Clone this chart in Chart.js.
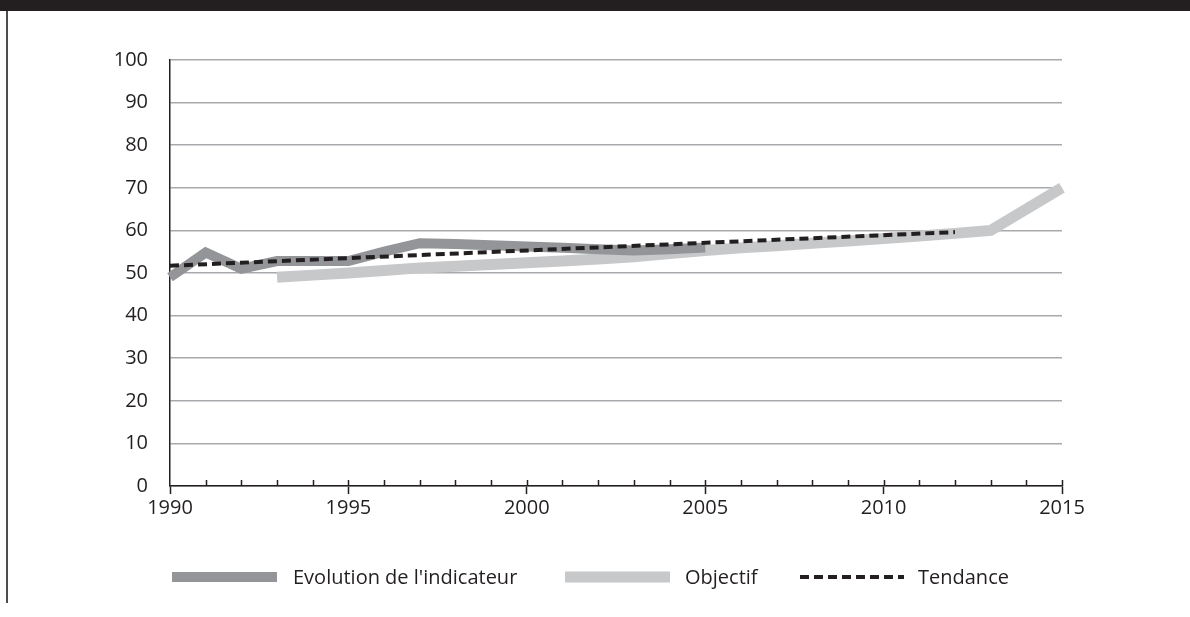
<!DOCTYPE html>
<html lang="fr">
<head>
<meta charset="utf-8">
<title>Evolution de l'indicateur</title>
<script src="https://cdn.jsdelivr.net/npm/chart.js@4.4.1/dist/chart.umd.min.js"></script>
<style>
  html, body { margin: 0; padding: 0; background: #ffffff; }
  #frame { position: relative; width: 1190px; height: 617px; overflow: hidden; }
  #topbar { position: absolute; left: 0; top: 0; width: 1190px; height: 11px; background: #231f20; }
  #leftrule { position: absolute; left: 6px; top: 11px; width: 1.5px; height: 592px; background: #4d4d4f; }
  #chart { position: absolute; left: 0; top: 0; }
</style>
</head>
<body>
<div id="frame">
  <canvas id="chart" width="1190" height="617"></canvas>
  <div id="topbar"></div>
  <div id="leftrule"></div>
</div>
<script>
// Années de l'axe horizontal
const years = [1990, 1991, 1992, 1993, 1994, 1995, 1996, 1997, 1998, 1999, 2000,
               2001, 2002, 2003, 2004, 2005, 2006, 2007, 2008, 2009, 2010,
               2011, 2012, 2013, 2014, 2015];

// Evolution de l'indicateur (1990-2005)
const evolutionYears  = [1990, 1991, 1992, 1993, 1994, 1995, 1996, 1997, 1998, 1999, 2000, 2001, 2002, 2003, 2004, 2005];
const evolutionValues = [49, 54.8, 51, 52.8, 52.8, 52.8, 55, 57, 56.8, 56.5, 56.2, 55.9, 55.6, 55.3, 55.6, 56];

// Objectif (1993-2015)
const objectifYears  = [1993, 1994, 1995, 1996, 1997, 1998, 1999, 2000, 2001, 2002, 2003,
                        2004, 2005, 2006, 2007, 2008, 2009, 2010, 2011, 2012, 2013, 2015];
const objectifValues = [49, 49.5, 50, 50.6, 51.2, 51.6, 52, 52.4, 52.8, 53.3, 53.8,
                        54.6, 55.3, 55.9, 56.4, 57, 57.5, 58.1, 58.7, 59.3, 60, 70];

// Tendance (droite de 1990 à 2012)
const tendanceYears  = [1990, 2012];
const tendanceValues = [51.7, 59.6];

// Graduations
const yTicks = [0, 10, 20, 30, 40, 50, 60, 70, 80, 90, 100];
const xLabelYears = [1990, 1995, 2000, 2005, 2010, 2015];

// Libellés de la légende
const seriesNames = ["Evolution de l'indicateur", "Objectif", "Tendance"];

const ink = '#231f20';
const toPoints = (xs, ys) => xs.map((x, i) => ({ x: x, y: ys[i] }));

Chart.defaults.font.family = "'Open Sans', 'Noto Sans', sans-serif";
Chart.defaults.font.size = 20;
Chart.defaults.color = ink;

// Petites graduations annuelles (vers l'intérieur) et légende dessinée à la main
const axisDecor = {
  id: 'axisDecor',
  afterDraw(chart) {
    const ctx = chart.ctx;
    const xs = chart.scales.x;
    const ys = chart.scales.y;
    const base = ys.getPixelForValue(0);
    ctx.save();
    ctx.strokeStyle = ink;
    ctx.lineWidth = 1.5;
    years.forEach(yr => {
      if (yr === years[0]) return;
      const px = Math.round(xs.getPixelForValue(yr)) + 0.5;
      ctx.beginPath();
      ctx.moveTo(px, base);
      ctx.lineTo(px, base - 6);
      ctx.stroke();
    });

    // Légende
    const slots = [
      { x0: 172, x1: 277, tx: 293 },
      { x0: 565, x1: 670, tx: 685 },
      { x0: 800, x1: 904, tx: 918 }
    ];
    const ly = 577;
    chart.data.datasets.forEach((ds, i) => {
      const s = slots[i];
      ctx.beginPath();
      ctx.strokeStyle = ds.borderColor;
      ctx.lineWidth = ds.borderWidth;
      ctx.lineCap = 'butt';
      ctx.setLineDash(ds.borderDash || []);
      ctx.moveTo(s.x0, ly);
      ctx.lineTo(s.x1, ly);
      ctx.stroke();
      ctx.setLineDash([]);
      ctx.fillStyle = ink;
      ctx.font = "20px 'Open Sans', 'Noto Sans', sans-serif";
      ctx.textBaseline = 'middle';
      ctx.textAlign = 'left';
      ctx.fillText(ds.label, s.tx, ly + 1);
    });
    ctx.restore();
  }
};

new Chart(document.getElementById('chart'), {
  type: 'line',
  data: {
    datasets: [
      {
        label: seriesNames[0],
        data: toPoints(evolutionYears, evolutionValues),
        borderColor: '#939598',
        borderWidth: 10,
        borderJoinStyle: 'miter',
        borderCapStyle: 'butt',
        pointRadius: 0,
        tension: 0,
        fill: false,
        clip: false,
        order: 1
      },
      {
        label: seriesNames[1],
        data: toPoints(objectifYears, objectifValues),
        borderColor: '#c7c8ca',
        borderWidth: 11,
        borderJoinStyle: 'miter',
        borderCapStyle: 'butt',
        pointRadius: 0,
        tension: 0,
        fill: false,
        clip: false,
        order: 2
      },
      {
        label: seriesNames[2],
        data: toPoints(tendanceYears, tendanceValues),
        borderColor: ink,
        borderWidth: 4,
        borderDash: [9, 5],
        borderCapStyle: 'butt',
        pointRadius: 0,
        tension: 0,
        fill: false,
        clip: false,
        order: 0
      }
    ]
  },
  options: {
    responsive: false,
    animation: false,
    devicePixelRatio: 1,
    layout: { padding: { left: 0, right: 128, top: 60, bottom: 0 } },
    plugins: {
      legend: { display: false },
      tooltip: { enabled: false }
    },
    scales: {
      x: {
        type: 'linear',
        min: years[0],
        max: years[years.length - 1],
        afterBuildTicks: (scale) => { scale.ticks = xLabelYears.map(v => ({ value: v })); },
        afterFit: (scale) => { scale.height = 131; },
        ticks: {
          callback: (v) => String(v),
          maxRotation: 0,
          padding: 2,
          color: ink,
          font: { size: 20 }
        },
        grid: {
          drawOnChartArea: false,
          drawTicks: true,
          tickLength: 8,
          tickColor: ink,
          tickWidth: 1.5
        },
        border: { display: true, color: ink, width: 1.5 }
      },
      y: {
        min: 0,
        max: 100,
        afterBuildTicks: (scale) => { scale.ticks = yTicks.map(v => ({ value: v })); },
        afterFit: (scale) => { scale.width = 170; },
        ticks: {
          padding: 22,
          color: ink,
          font: { size: 20 }
        },
        grid: {
          color: '#a7a9ac',
          lineWidth: 1.5,
          drawTicks: false
        },
        border: { display: true, color: ink, width: 1.5 }
      }
    }
  },
  plugins: [axisDecor]
});
</script>
</body>
</html>
